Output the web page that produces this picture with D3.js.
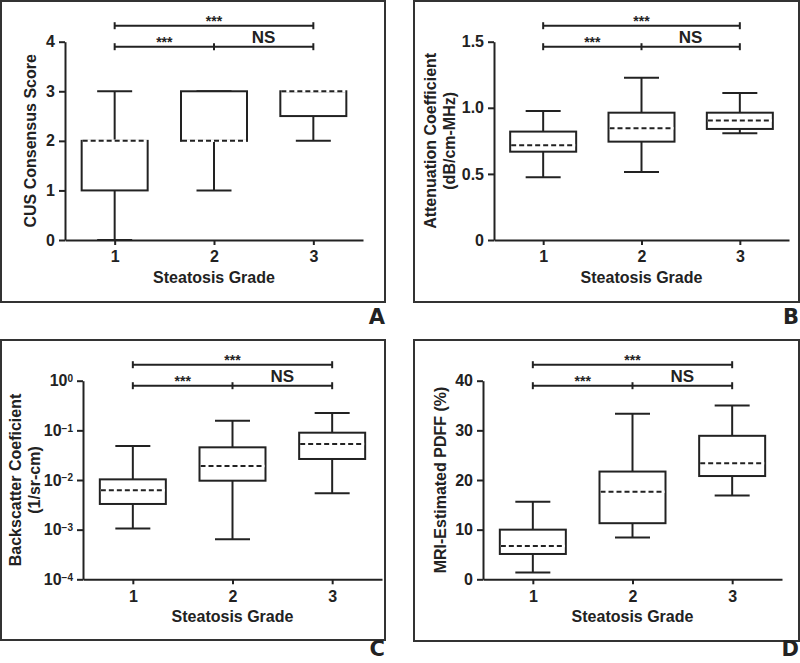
<!DOCTYPE html>
<html><head><meta charset="utf-8">
<script src="https://cdn.jsdelivr.net/npm/d3@7/dist/d3.min.js"></script>
<style>
html,body{margin:0;padding:0;background:#fff;}
svg{display:block;}
text{font-family:"Liberation Sans",Arial,Helvetica,sans-serif;font-weight:bold;fill:#222;}
</style></head>
<body>
<svg id="chart" width="800" height="663"></svg>
<script>
// ---------- DATA ----------
const categories = [1, 2, 3];
const xTickLabels = ["1", "2", "3"];
const xTitle = "Steatosis Grade";
const sigLabels = ["***", "***", "NS"];

// Panel A: CUS consensus score
const cusLow  = [0, 1, 2];
const cusQ1   = [1, 2, 2.5];
const cusMed  = [2, 2, 3];
const cusQ3   = [2, 3, 3];
const cusHigh = [3, 3, 3];
const cusTicks = [0, 1, 2, 3, 4];
const cusTickLabels = ["0", "1", "2", "3", "4"];

// Panel B: attenuation coefficient
const attLow  = [0.475, 0.515, 0.807];
const attQ1   = [0.668, 0.744, 0.840];
const attMed  = [0.716, 0.845, 0.903];
const attQ3   = [0.820, 0.963, 0.963];
const attHigh = [0.976, 1.228, 1.112];
const attTicks = [0, 0.5, 1.0, 1.5];
const attTickLabels = ["0", "0.5", "1.0", "1.5"];

// Panel C: backscatter coefficient (log)
const bscLow  = [0.00106, 0.000638, 0.0054];
const bscQ1   = [0.00329, 0.00968, 0.0265];
const bscMed  = [0.0062, 0.0191, 0.0531];
const bscQ3   = [0.0103, 0.0455, 0.0897];
const bscHigh = [0.0484, 0.156, 0.223];
const bscExponents = [0, -1, -2, -3, -4];

// Panel D: MRI PDFF
const pdffLow  = [1.35, 8.4, 16.9];
const pdffQ1   = [5.1, 11.3, 20.8];
const pdffMed  = [6.7, 17.65, 23.35];
const pdffQ3   = [10.0, 21.7, 28.9];
const pdffHigh = [15.6, 33.35, 35.0];
const pdffTicks = [0, 10, 20, 30, 40];
const pdffTickLabels = ["0", "10", "20", "30", "40"];

// ---------- DRAW ----------
const svg = d3.select("#chart");
const INK = "#222";

function panel(cfg) {
  const g = svg.append("g");
  g.append("rect").attr("x", cfg.frame[0]).attr("y", cfg.frame[1])
    .attr("width", cfg.frame[2] - cfg.frame[0]).attr("height", cfg.frame[3] - cfg.frame[1])
    .attr("fill", "none").attr("stroke", "#333").attr("stroke-width", 2);
  g.append("text").attr("x", cfg.letterPos[0]).attr("y", cfg.letterPos[1])
    .attr("text-anchor", "end").style("font-size", "21px").style("font-family", "'DejaVu Sans',Verdana,sans-serif")
    .text(cfg.letter);

  const x = d3.scaleLinear().domain([0.5, 3.5]).range([cfg.axisX, cfg.axisXEnd]);
  const y = cfg.y;

  const ya = d3.axisLeft(y).tickValues(cfg.yTicks).tickSize(6).tickPadding(4).tickSizeOuter(0);
  if (cfg.yLabels) ya.tickFormat((v, i) => cfg.yLabels[i]);
  const yg = g.append("g").attr("transform", `translate(${cfg.axisX},0)`).call(ya);
  yg.select(".domain").attr("stroke", INK).attr("stroke-width", 2);
  yg.selectAll(".tick line").attr("stroke", INK).attr("stroke-width", 2);
  yg.selectAll(".tick text").style("font-size", "16px").attr("fill", INK);
  if (cfg.logLabels) {
    yg.selectAll(".tick text").each(function(d) {
      const t = d3.select(this); t.text("");
      const e = Math.round(Math.log10(d));
      t.append("tspan").text("10");
      t.append("tspan").attr("dy", "-0.42em").style("font-size", "10px")
        .text(e === 0 ? "0" : "\u2212" + Math.abs(e));
    });
  }

  const xa = d3.axisBottom(x).tickValues(categories).tickSize(5).tickPadding(6).tickSizeOuter(0)
    .tickFormat((d, i) => xTickLabels[i]);
  const xg = g.append("g").attr("transform", `translate(0,${cfg.y0})`).call(xa);
  xg.select(".domain").attr("stroke", INK).attr("stroke-width", 2);
  xg.selectAll(".tick line").attr("stroke", INK).attr("stroke-width", 2);
  xg.selectAll(".tick text").style("font-size", "16px").attr("fill", INK);

  g.append("text").attr("x", x(2)).attr("y", cfg.y0 + 43).attr("text-anchor", "middle")
    .style("font-size", "16px").text(xTitle);
  const yc = (cfg.y0 + cfg.yTop) / 2;
  cfg.yTitle.forEach((line, i) => {
    g.append("text").attr("transform", `translate(${cfg.yTitleX[i]},${yc}) rotate(-90)`)
      .attr("text-anchor", "middle").attr("dy", "0.35em").style("font-size", "16px").text(line);
  });

  const d = cfg.data;
  const boxW = 66, capW = 35;
  categories.forEach((c, i) => {
    const cx = x(c);
    const bx = g.append("g");
    const yq1 = y(d.q1[i]), yq3 = y(d.q3[i]);
    bx.append("line").attr("x1", cx).attr("x2", cx).attr("y1", y(d.high[i])).attr("y2", yq3)
      .attr("stroke", INK).attr("stroke-width", 2);
    bx.append("line").attr("x1", cx).attr("x2", cx).attr("y1", yq1).attr("y2", y(d.low[i]))
      .attr("stroke", INK).attr("stroke-width", 2);
    [d.high[i], d.low[i]].forEach(v => {
      bx.append("line").attr("x1", cx - capW / 2).attr("x2", cx + capW / 2).attr("y1", y(v)).attr("y2", y(v))
        .attr("stroke", INK).attr("stroke-width", 2);
    });
    bx.append("rect").attr("x", cx - boxW / 2).attr("y", yq3).attr("width", boxW).attr("height", yq1 - yq3)
      .attr("fill", "#fff").attr("stroke", INK).attr("stroke-width", 2);
    const ym = y(d.med[i]);
    bx.append("line").attr("x1", cx - boxW / 2 + 1).attr("x2", cx + boxW / 2 - 1).attr("y1", ym).attr("y2", ym)
      .attr("stroke", "#fff").attr("stroke-width", 2.5);
    bx.append("line").attr("x1", cx - boxW / 2 + 1).attr("x2", cx + boxW / 2 - 1).attr("y1", ym).attr("y2", ym)
      .attr("stroke", INK).attr("stroke-width", 2).attr("stroke-dasharray", "5,3");
  });

  const yUp = cfg.yTop - 16, yLo = cfg.yTop + 5, th = 3.5;
  const sg = g.append("g").attr("stroke", INK).attr("stroke-width", 2);
  sg.append("line").attr("x1", x(1)).attr("x2", x(3)).attr("y1", yUp).attr("y2", yUp);
  sg.append("line").attr("x1", x(1)).attr("x2", x(3)).attr("y1", yLo).attr("y2", yLo);
  [[1, yUp], [3, yUp], [1, yLo], [2, yLo], [3, yLo]].forEach(([c, yy]) => {
    sg.append("line").attr("x1", x(c)).attr("x2", x(c)).attr("y1", yy - th).attr("y2", yy + th);
  });
  g.append("text").attr("x", x(2)).attr("y", yUp + 0.5).attr("text-anchor", "middle")
    .style("font-size", "14px").text(sigLabels[0]);
  g.append("text").attr("x", x(1.5)).attr("y", yLo + 0.5).attr("text-anchor", "middle")
    .style("font-size", "14px").text(sigLabels[1]);
  g.append("text").attr("x", x(2.5)).attr("y", yLo - 4).attr("text-anchor", "middle")
    .style("font-size", "17px").text(sigLabels[2]);
}

panel({
  frame: [1, 1, 385, 302], letter: "A", letterPos: [385, 324],
  axisX: 65, axisXEnd: 363, y0: 240, yTop: 41.7,
  y: d3.scaleLinear().domain([0, 4]).range([240, 41.7]),
  yTicks: cusTicks, yLabels: cusTickLabels, yTitle: ["CUS Consensus Score"], yTitleX: [30],
  data: { low: cusLow, q1: cusQ1, med: cusMed, q3: cusQ3, high: cusHigh }
});
panel({
  frame: [414, 1, 799, 302], letter: "B", letterPos: [799, 324],
  axisX: 494, axisXEnd: 789, y0: 240, yTop: 41.7,
  y: d3.scaleLinear().domain([0, 1.5]).range([240, 41.7]),
  yTicks: attTicks, yLabels: attTickLabels,
  yTitle: ["Attenuation Coefficient", "(dB/cm-MHz)"], yTitleX: [430, 449],
  data: { low: attLow, q1: attQ1, med: attMed, q3: attQ3, high: attHigh }
});
panel({
  frame: [1, 340, 385, 640], letter: "C", letterPos: [385, 656],
  axisX: 83, axisXEnd: 382, y0: 579.3, yTop: 380.7,
  y: d3.scaleLog().domain([1e-4, 1]).range([579.3, 380.7]),
  yTicks: bscExponents.map(e => Math.pow(10, e)), logLabels: true,
  yTitle: ["Backscatter Coeficient", "(1/sr-cm)"], yTitleX: [15, 34],
  data: { low: bscLow, q1: bscQ1, med: bscMed, q3: bscQ3, high: bscHigh }
});
panel({
  frame: [414, 340, 799, 641], letter: "D", letterPos: [799, 656],
  axisX: 483, axisXEnd: 782, y0: 579.3, yTop: 380.7,
  y: d3.scaleLinear().domain([0, 40]).range([579.3, 380.7]),
  yTicks: pdffTicks, yLabels: pdffTickLabels, yTitle: ["MRI-Estimated PDFF (%)"], yTitleX: [440],
  data: { low: pdffLow, q1: pdffQ1, med: pdffMed, q3: pdffQ3, high: pdffHigh }
});
</script>
</body></html>
